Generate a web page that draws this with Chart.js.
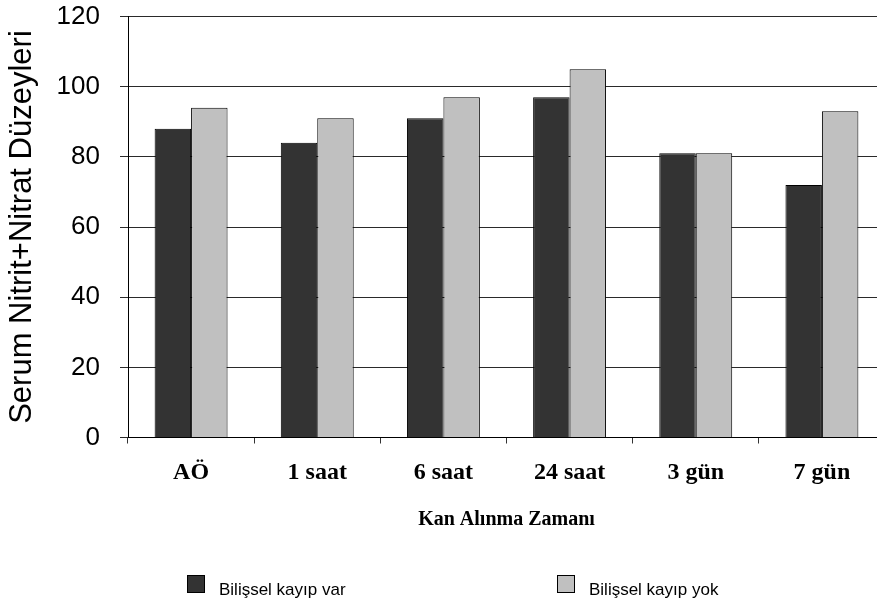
<!DOCTYPE html>
<html>
<head>
<meta charset="utf-8">
<script src="https://cdn.jsdelivr.net/npm/chart.js@4/dist/chart.umd.min.js"></script>
<style>
  html, body { margin: 0; padding: 0; background: #fff; overflow: hidden; }
  #wrap { position: relative; width: 877px; height: 608px; overflow: hidden; }
  #c { position: absolute; left: 0; top: 0; }
  .leg { position: absolute; font-family: "Liberation Sans", Arial, sans-serif; font-size: 17px; color: #000; white-space: pre; }
  .box { position: absolute; width: 16px; height: 16px; border: 1px solid #000; }
</style>
</head>
<body>
<div id="wrap">
  <canvas id="c" width="890" height="608" style="width:890px;height:608px"></canvas>
</div>
<script>
const categories = ["AÖ", "1 saat", "6 saat", "24 saat", "3 gün", "7 gün"];
const seriesNames = ["Bilişsel kayıp var", "Bilişsel kayıp yok"];
const kayipVar = [88, 84, 91, 97, 81, 72];
const kayipYok = [94, 91, 97, 105, 81, 93];
const yTicks = [0, 20, 40, 60, 80, 100, 120];
const yTitle = "Serum Nitrit+Nitrat Düzeyleri";
const xTitle = "Kan Alınma Zamanı";
const colors = ["#333333", "#C0C0C0"];

const chart = new Chart(document.getElementById('c'), {
  type: 'bar',
  data: {
    labels: categories,
    datasets: [
      { label: seriesNames[0], data: kayipVar, backgroundColor: colors[0], borderColor: '#000', borderWidth: 1, barPercentage: 1.0, categoryPercentage: 0.578 },
      { label: seriesNames[1], data: kayipYok, backgroundColor: colors[1], borderColor: '#000', borderWidth: 1, barPercentage: 1.0, categoryPercentage: 0.578 }
    ]
  },
  options: {
    responsive: false,
    animation: false,
    devicePixelRatio: 1,
    layout: { padding: { top: 16.5, right: 5, bottom: 72, left: 0 } },
    plugins: { legend: { display: false }, tooltip: { enabled: false } },
    scales: {
      x: {
        grid: { display: true, drawOnChartArea: false, tickLength: 6, color: '#333', offset: true },
        border: { display: true, color: '#000' },
        ticks: { color: '#000', padding: 15, font: { family: "'Liberation Serif', 'Times New Roman', serif", size: 24, weight: 'bold' } },
        title: { display: true, text: xTitle, color: '#000', padding: { top: 4, bottom: 4 }, font: { family: "'Liberation Serif', 'Times New Roman', serif", size: 20, weight: 'bold' } },
        afterFit: (s) => { s.height = 98.5; s.paddingLeft = 0; s.paddingRight = 0; }
      },
      y: {
        min: 0, max: 120,
        afterBuildTicks: (s) => { s.ticks = yTicks.map(v => ({ value: v })); },
        grid: { color: '#2a2a2a', tickLength: 8, lineWidth: 1 },
        border: { display: true, color: '#000' },
        ticks: { color: '#000', padding: 20, font: { family: "'Liberation Sans', Arial, sans-serif", size: 26 } },
        title: { display: true, text: yTitle, color: '#000', padding: { top: 4, bottom: 4 }, font: { family: "'Liberation Sans', Arial, sans-serif", size: 31 } },
        afterFit: (s) => { s.width = 128; s.paddingTop = 0; s.paddingBottom = 0; }
      }
    }
  }
});

// legend (HTML)
const wrap = document.getElementById('wrap');
const legPos = [{ bx: 187, tx: 219 }, { bx: 557, tx: 589 }];
seriesNames.forEach((name, i) => {
  const b = document.createElement('div');
  b.className = 'box';
  b.style.left = legPos[i].bx + 'px';
  b.style.top = '575px';
  b.style.background = colors[i];
  wrap.appendChild(b);
  const t = document.createElement('div');
  t.className = 'leg';
  t.style.left = legPos[i].tx + 'px';
  t.style.top = '580px';
  t.textContent = name;
  wrap.appendChild(t);
});
</script>
</body>
</html>
